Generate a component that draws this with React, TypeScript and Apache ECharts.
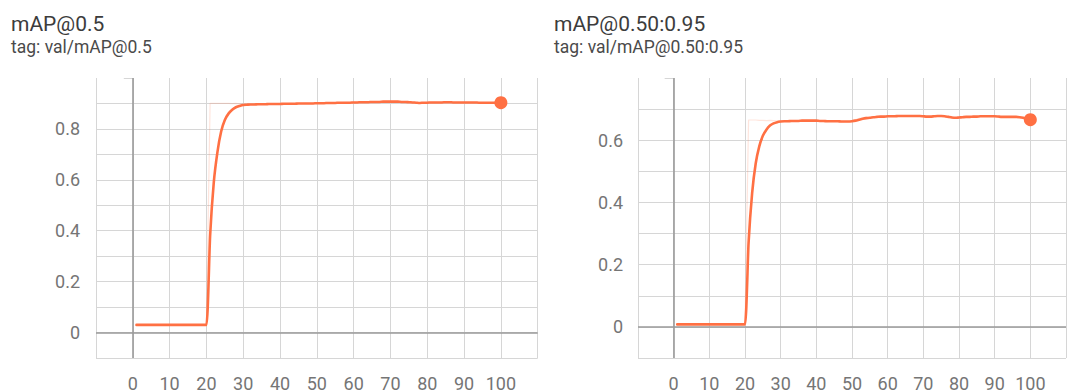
import React, { useEffect, useRef } from "react";
import * as echarts from "echarts";

const epochs: number[] = Array.from({ length: 100 }, (_, i) => i + 1);

const map50Smoothed: number[] = [
  0.03, 0.03, 0.03, 0.03, 0.03, 0.03, 0.03, 0.03, 0.03, 0.03,
  0.03, 0.03, 0.03, 0.03, 0.03, 0.03, 0.03, 0.03, 0.03, 0.03,
  0.38, 0.59, 0.71, 0.79, 0.835, 0.86, 0.875, 0.885, 0.89, 0.894,
  0.895, 0.896, 0.896, 0.897, 0.897, 0.897, 0.898, 0.898, 0.898, 0.898,
  0.899, 0.899, 0.899, 0.899, 0.9, 0.9, 0.9, 0.9, 0.9, 0.901,
  0.901, 0.901, 0.902, 0.902, 0.902, 0.903, 0.903, 0.903, 0.903, 0.904,
  0.904, 0.905, 0.905, 0.905, 0.906, 0.906, 0.906, 0.907, 0.907, 0.907,
  0.907, 0.907, 0.906, 0.906, 0.905, 0.904, 0.903, 0.902, 0.903, 0.903,
  0.904, 0.904, 0.904, 0.904, 0.905, 0.905, 0.904, 0.904, 0.904, 0.904,
  0.904, 0.904, 0.904, 0.903, 0.903, 0.903, 0.903, 0.903, 0.903, 0.903,
];

const map50Raw: number[] = [
  0.03, 0.03, 0.03, 0.03, 0.03, 0.03, 0.03, 0.03, 0.03, 0.03,
  0.03, 0.03, 0.03, 0.03, 0.03, 0.03, 0.03, 0.03, 0.03, 0.03,
  0.9, 0.9, 0.9, 0.9, 0.9, 0.9, 0.899, 0.9, 0.898, 0.898,
  0.897, 0.897, 0.897, 0.898, 0.897, 0.898, 0.899, 0.898, 0.898, 0.899,
  0.899, 0.899, 0.9, 0.899, 0.9, 0.9, 0.901, 0.9, 0.901, 0.901,
  0.901, 0.902, 0.902, 0.903, 0.902, 0.903, 0.903, 0.904, 0.904, 0.904,
  0.905, 0.905, 0.906, 0.906, 0.906, 0.907, 0.907, 0.907, 0.908, 0.907,
  0.907, 0.906, 0.905, 0.905, 0.904, 0.903, 0.902, 0.902, 0.903, 0.904,
  0.904, 0.905, 0.904, 0.905, 0.905, 0.905, 0.904, 0.904, 0.904, 0.904,
  0.904, 0.904, 0.903, 0.903, 0.903, 0.903, 0.903, 0.903, 0.903, 0.903,
];

const map5095Smoothed: number[] = [
  0.008, 0.008, 0.008, 0.008, 0.008, 0.008, 0.008, 0.008, 0.008, 0.008,
  0.008, 0.008, 0.008, 0.008, 0.008, 0.008, 0.008, 0.008, 0.008, 0.008,
  0.27, 0.43, 0.525, 0.58, 0.614, 0.634, 0.647, 0.654, 0.658, 0.66,
  0.661, 0.661, 0.662, 0.662, 0.662, 0.663, 0.663, 0.663, 0.663, 0.663,
  0.662, 0.662, 0.661, 0.661, 0.661, 0.661, 0.66, 0.66, 0.66, 0.661,
  0.663, 0.666, 0.669, 0.671, 0.672, 0.674, 0.675, 0.676, 0.676, 0.677,
  0.677, 0.677, 0.678, 0.678, 0.678, 0.678, 0.678, 0.678, 0.678, 0.677,
  0.676, 0.676, 0.677, 0.678, 0.678, 0.677, 0.675, 0.673, 0.672, 0.673,
  0.674, 0.675, 0.675, 0.676, 0.676, 0.677, 0.677, 0.677, 0.677, 0.677,
  0.676, 0.675, 0.675, 0.675, 0.675, 0.675, 0.674, 0.672, 0.669, 0.666,
];

const map5095Raw: number[] = [
  0.008, 0.008, 0.008, 0.008, 0.008, 0.008, 0.008, 0.008, 0.008, 0.008,
  0.008, 0.008, 0.008, 0.008, 0.008, 0.008, 0.008, 0.008, 0.008, 0.008,
  0.665, 0.665, 0.665, 0.664, 0.664, 0.663, 0.664, 0.663, 0.662, 0.662,
  0.662, 0.661, 0.663, 0.662, 0.662, 0.664, 0.663, 0.663, 0.663, 0.663,
  0.661, 0.662, 0.66, 0.661, 0.661, 0.661, 0.659, 0.66, 0.66, 0.662,
  0.666, 0.67, 0.672, 0.674, 0.673, 0.676, 0.676, 0.677, 0.676, 0.678,
  0.677, 0.677, 0.679, 0.678, 0.678, 0.678, 0.678, 0.679, 0.677, 0.676,
  0.675, 0.676, 0.678, 0.679, 0.678, 0.676, 0.673, 0.671, 0.671, 0.674,
  0.676, 0.676, 0.675, 0.677, 0.676, 0.678, 0.677, 0.677, 0.677, 0.677,
  0.675, 0.674, 0.675, 0.675, 0.675, 0.675, 0.673, 0.669, 0.665, 0.662,
];

const titles: string[] = ["mAP@0.5", "mAP@0.50:0.95"];
const tags: string[] = ["tag: val/mAP@0.5", "tag: val/mAP@0.50:0.95"];
const xTickLabels: number[] = [0, 10, 20, 30, 40, 50, 60, 70, 80, 90, 100];
const yTickLabelsLeft: number[] = [0, 0.2, 0.4, 0.6, 0.8];
const yTickLabelsRight: number[] = [0, 0.2, 0.4, 0.6];

const ORANGE = "#ff7043";
const GRID = "#d6d6d6";
const LABEL = "#757575";
const FONT = "Roboto, 'Noto Sans', sans-serif";

function pairs(xs: number[], ys: number[]): number[][] {
  return xs.map((x, i) => [x, ys[i]]);
}

function fmtY(allowed: number[]) {
  return (v: number) => {
    const hit = allowed.find((a) => Math.abs(a - v) < 1e-6);
    if (hit === undefined) return "";
    return hit === 0 ? "0" : String(hit);
  };
}

function fmtX(v: number) {
  const hit = xTickLabels.find((a) => Math.abs(a - v) < 1e-6);
  return hit === undefined ? "" : String(hit);
}

export default function App() {
  const ref = useRef<HTMLDivElement>(null);

  useEffect(() => {
    if (!ref.current) return;
    const chart = echarts.init(ref.current, undefined, { renderer: "svg" });

    const xAxisBase = (gridIndex: number) => ({
      type: "value" as const,
      gridIndex,
      min: -10,
      max: 110,
      interval: 10,
      axisLine: { show: false },
      axisTick: { show: true, length: 6, lineStyle: { color: GRID, width: 1 } },
      axisLabel: {
        show: true,
        formatter: fmtX,
        color: LABEL,
        fontSize: 18,
        fontFamily: FONT,
        margin: 16,
        showMinLabel: true,
        showMaxLabel: true,
      },
      splitLine: { show: true, showMinLine: true, showMaxLine: true, lineStyle: { color: GRID, width: 1 } },
    });

    const yAxisBase = (gridIndex: number, max: number, labels: number[], margin: number) => ({
      type: "value" as const,
      gridIndex,
      min: -0.1,
      max,
      interval: 0.1,
      axisLine: { show: false },
      axisTick: { show: true, length: 9, lineStyle: { color: GRID, width: 1 } },
      axisLabel: {
        show: true,
        formatter: fmtY(labels),
        color: LABEL,
        fontSize: 18,
        fontFamily: FONT,
        margin,
      },
      splitLine: { show: true, showMinLine: true, showMaxLine: false, lineStyle: { color: GRID, width: 1 } },
    });

    const zeroMark = {
      silent: true,
      symbol: "none",
      label: { show: false },
      lineStyle: { color: "#9a9a9a", width: 1.6, type: "solid" },
      data: [{ xAxis: 0 }, { yAxis: 0 }],
    };

    const makeSeries = (idx: number, raw: number[], sm: number[]) => [
      {
        type: "line",
        xAxisIndex: idx,
        yAxisIndex: idx,
        data: pairs(epochs, raw),
        showSymbol: false,
        lineStyle: { color: ORANGE, width: 1.2, opacity: 0.18 },
        itemStyle: { color: ORANGE },
        z: 2,
        markLine: zeroMark,
      },
      {
        type: "line",
        xAxisIndex: idx,
        yAxisIndex: idx,
        data: pairs(epochs, sm),
        showSymbol: false,
        smooth: 0.2,
        lineStyle: { color: ORANGE, width: 2.6, cap: "round", join: "round" },
        itemStyle: { color: ORANGE },
        z: 3,
      },
      {
        type: "scatter",
        xAxisIndex: idx,
        yAxisIndex: idx,
        data: [[epochs[epochs.length - 1], sm[sm.length - 1]]],
        symbolSize: 13,
        itemStyle: { color: ORANGE, opacity: 1 },
        z: 4,
      },
    ];

    const titleX = [11, 554];
    const graphic: any[] = [];
    [0, 1].forEach((i) => {
      graphic.push({
        type: "text",
        left: titleX[i],
        top: 13,
        style: { text: titles[i], fill: "#3c3c3c", font: `21px ${FONT}`, lineHeight: 21 },
        silent: true,
      });
      graphic.push({
        type: "text",
        left: titleX[i],
        top: 37.5,
        style: { text: tags[i], fill: "#4a4a4a", font: `17.5px ${FONT}`, lineHeight: 17 },
        silent: true,
      });
    });

    chart.setOption({
      animation: false,
      backgroundColor: "#ffffff",
      graphic,
      grid: [
        { left: 96, top: 78, width: 441.7, height: 281.3 },
        { left: 638, top: 78, width: 440.3, height: 281.3 },
      ],
      xAxis: [xAxisBase(0), xAxisBase(1)],
      yAxis: [
        yAxisBase(0, 1.0, yTickLabelsLeft, 16),
        yAxisBase(1, 0.8, yTickLabelsRight, 15),
      ],
      series: [
        ...makeSeries(0, map50Raw, map50Smoothed),
        ...makeSeries(1, map5095Raw, map5095Smoothed),
      ],
    });

    return () => chart.dispose();
  }, []);

  return (
    <div
      ref={ref}
      style={{ position: "absolute", left: 0, top: 0, width: 1069, height: 392, overflow: "hidden" }}
    />
  );
}
